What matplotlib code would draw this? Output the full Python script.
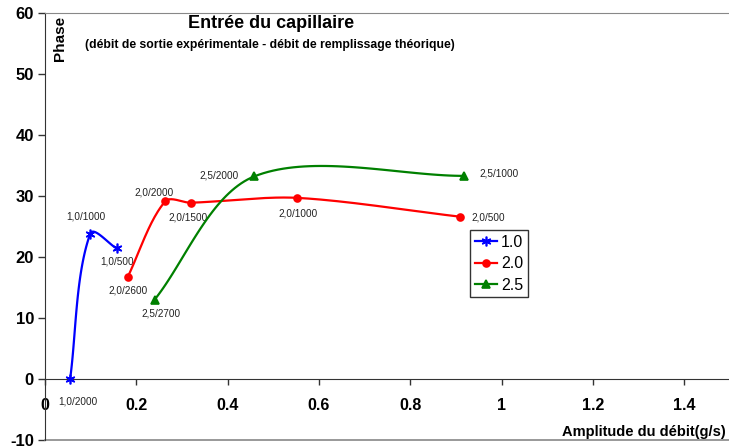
import numpy as np
import matplotlib
matplotlib.use('Agg')
import matplotlib.pyplot as plt
from matplotlib.lines import Line2D

plt.rcParams['font.family'] = ['Liberation Sans', 'DejaVu Sans']
plt.rcParams['axes.unicode_minus'] = False

# amplitude du débit (g/s) / phase, une série par pression
amp_10 = [0.055, 0.099, 0.157]
phase_10 = [0.0, 23.8, 21.4]
lab_10 = ['1,0/2000', '1,0/1000', '1,0/500']

amp_20 = [0.181, 0.263, 0.319, 0.551, 0.910]
phase_20 = [16.7, 29.1, 28.9, 29.7, 26.6]
lab_20 = ['2,0/2600', '2,0/2000', '2,0/1500', '2,0/1000', '2,0/500']

amp_25 = [0.240, 0.458, 0.918]
phase_25 = [13.0, 33.2, 33.3]
lab_25 = ['2,5/2700', '2,5/2000', '2,5/1000']

series_names = ['1.0', '2.0', '2.5']
x_ticks = [0, 0.2, 0.4, 0.6, 0.8, 1.0, 1.2, 1.4]
y_ticks = [-10, 0, 10, 20, 30, 40, 50, 60]

W, H = 729, 448
fig = plt.figure(figsize=(W / 100, H / 100), dpi=100)
ax_w = 1.5 * 456.5
ax = fig.add_axes([45 / W, 8 / H, ax_w / W, 427 / H])
ax.set_xlim(0, 1.5)
ax.set_ylim(-10, 60)


def unit(v):
    n = np.hypot(*v)
    return v / n if n > 0 else v


def smooth(ax, xs, ys, n=40, k=0.3):
    # courbe lissée type tableur (bezier, tangente donnée par les voisins)
    pts = ax.transData.transform(np.column_stack([xs, ys]))
    p = np.vstack([pts[0], pts, pts[-1]])
    t = np.linspace(0, 1, n)[:, None]
    out = []
    for i in range(1, len(p) - 2):
        p0, p1, p2, p3 = p[i - 1], p[i], p[i + 1], p[i + 2]
        d = np.hypot(*(p2 - p1)) * k
        c1 = p1 + unit(p2 - p0) * d
        c2 = p2 - unit(p3 - p1) * d
        seg = ((1 - t) ** 3) * p1 + 3 * ((1 - t) ** 2) * t * c1 \
            + 3 * (1 - t) * t ** 2 * c2 + t ** 3 * p2
        out.append(seg)
    return ax.transData.inverted().transform(np.vstack(out))


styles = [
    ('#0000ff', (6, 2, 0), 7, amp_10, phase_10, lab_10,
     [(8, -22), (-4, 17), (0, -13)]),
    ('#ff0000', 'o', 5, amp_20, phase_20, lab_20,
     [(0, -13), (-11, 9), (-3, -15), (2, -16), (28, -1)]),
    ('#008000', '^', 6, amp_25, phase_25, lab_25,
     [(6, -14), (-35, 1), (35, 2)]),
]

handles = []
for (col, mk, ms, xs, ys, labs, offs), name in zip(styles, series_names):
    curve = smooth(ax, xs, ys)
    ax.plot(curve[:, 0], curve[:, 1], color=col, lw=1.6, zorder=3)
    ax.plot(xs, ys, ls='none', marker=mk, ms=ms, color=col,
            mec=col, mew=1.2, zorder=4)
    for x, y, s, (dx, dy) in zip(xs, ys, labs, offs):
        ax.annotate(s, (x, y), xytext=(dx, dy), textcoords='offset pixels',
                    ha='center', va='center', fontsize=7.2, color='#222222')
    handles.append(Line2D([], [], color=col, marker=mk, ms=ms, mew=1.2,
                          lw=1.6, label=name))

leg = ax.legend(handles=handles, loc='upper left',
                bbox_to_anchor=((470 - 45) / ax_w, (440 - 230) / 427),
                fontsize=11.5, frameon=True, fancybox=False,
                borderpad=0.3, labelspacing=0.4, handlelength=1.4,
                handletextpad=0.25, borderaxespad=0)
leg.get_frame().set_edgecolor('black')
leg.get_frame().set_linewidth(1)

# axes
ax.spines['bottom'].set_position(('data', 0))
ax.spines['bottom'].set_color('#333333')
ax.spines['left'].set_color('#333333')
ax.spines['right'].set_visible(False)
ax.spines['top'].set_color('#888888')
ax.plot([0, 1], [0, 0], transform=ax.transAxes, color='#888888', lw=1.2,
        clip_on=False)

ax.set_xticks(x_ticks)
ax.set_xticklabels([f'{v:g}' for v in x_ticks])
ax.set_yticks(y_ticks)
ax.tick_params(axis='x', direction='out', length=4, width=1, pad=10,
               labelsize=11.5, color='#333333')
ax.tick_params(axis='y', direction='out', length=5, width=1, pad=3,
               labelsize=12, color='#333333')
for lb in ax.get_xticklabels() + ax.get_yticklabels():
    lb.set_fontweight('bold')

fig.text(271 / W, 1 - 24 / H, 'Entrée du capillaire', ha='center',
         va='center', fontsize=13, fontweight='bold')
fig.text(270 / W, 1 - 45 / H,
         '(débit de sortie expérimentale - débit de remplissage théorique)',
         ha='center', va='center', fontsize=8.8, fontweight='bold')
fig.text(60 / W, 1 - 38 / H, 'Phase', rotation=90, ha='center', va='center',
         fontsize=11, fontweight='bold')
fig.text(726 / W, 1 - 432 / H, 'Amplitude du débit(g/s)', ha='right',
         va='center', fontsize=10.5, fontweight='bold')

fig.savefig('out.png', dpi=100, facecolor='white')
